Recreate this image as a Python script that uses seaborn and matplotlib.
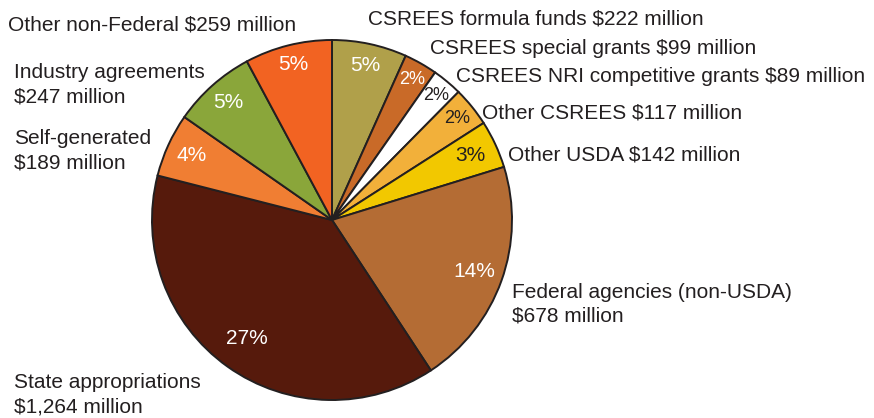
import numpy as np
import matplotlib
matplotlib.use("Agg")
import matplotlib.pyplot as plt
import seaborn as sns

# ---- data ----
categories = [
    "CSREES formula funds", "CSREES special grants", "CSREES NRI competitive grants",
    "Other CSREES", "Other USDA", "Federal agencies (non-USDA)", "State appropriations",
    "Self-generated", "Industry agreements", "Other non-Federal",
]
amounts_millions = [222, 99, 89, 117, 142, 678, 1264, 189, 247, 259]
percent_labels = ["5%", "2%", "2%", "2%", "3%", "14%", "27%", "4%", "5%", "5%"]
outer_labels = [
    "CSREES formula funds $222 million",
    "CSREES special grants $99 million",
    "CSREES NRI competitive grants $89 million",
    "Other CSREES $117 million",
    "Other USDA $142 million",
    "Federal agencies (non-USDA)\n$678 million",
    "State appropriations\n$1,264 million",
    "Self-generated\n$189 million",
    "Industry agreements\n$247 million",
    "Other non-Federal $259 million",
]

# ---- styles ----
colors = ["#B0A04A", "#C96A28", "#FFFFFF", "#F2B03A", "#F2C800",
          "#B46C34", "#561A0C", "#F07E33", "#8AA63A", "#F26322"]
pct_colors = ["white", "white", "#231F20", "#231F20", "#231F20",
              "white", "white", "white", "white", "white"]
pct_sizes = [15, 13, 13, 13, 15, 15, 15, 15, 15, 15]
pct_radius = [0.875, 0.90, 0.90, 0.895, 0.85, 0.84, 0.81, 0.86, 0.87, 0.89]
# outer label anchor (left, vertical center of first line) in pixel coordinates (top-left origin)
label_pos = [(368, 19), (430, 48), (456, 76), (482, 113), (508, 155),
             (512, 292), (14, 383), (14, 139), (14, 73), (8, 25)]

sns.set_theme(style="white")
plt.rcParams["font.family"] = ["Liberation Sans", "DejaVu Sans"]

W, H = 874, 418
fig = plt.figure(figsize=(W / 100, H / 100), dpi=100)
ax = fig.add_axes([0, 0, 1, 1])

cx, cy, R = 332, H - 220, 180
txt = "#231F20"

wedges, _ = ax.pie(
    amounts_millions, colors=colors, startangle=90, counterclock=False,
    center=(cx, cy), radius=R, frame=True,
    wedgeprops=dict(edgecolor=txt, linewidth=1.4),
)
ax.set_xlim(0, W)
ax.set_ylim(0, H)
ax.set_aspect("equal")
ax.set_axis_off()

for w, lab, c, r, fs in zip(wedges, percent_labels, pct_colors, pct_radius, pct_sizes):
    mid = np.deg2rad((w.theta1 + w.theta2) / 2)
    ax.text(cx + r * R * np.cos(mid), cy + r * R * np.sin(mid), lab,
            ha="center", va="center", color=c, fontsize=fs)

for lab, (px, py) in zip(outer_labels, label_pos):
    for i, line in enumerate(lab.split("\n")):
        ax.text(px, H - py - i * 24, line, ha="left", va="center",
                color=txt, fontsize=15)

fig.savefig("out.png", dpi=100)
